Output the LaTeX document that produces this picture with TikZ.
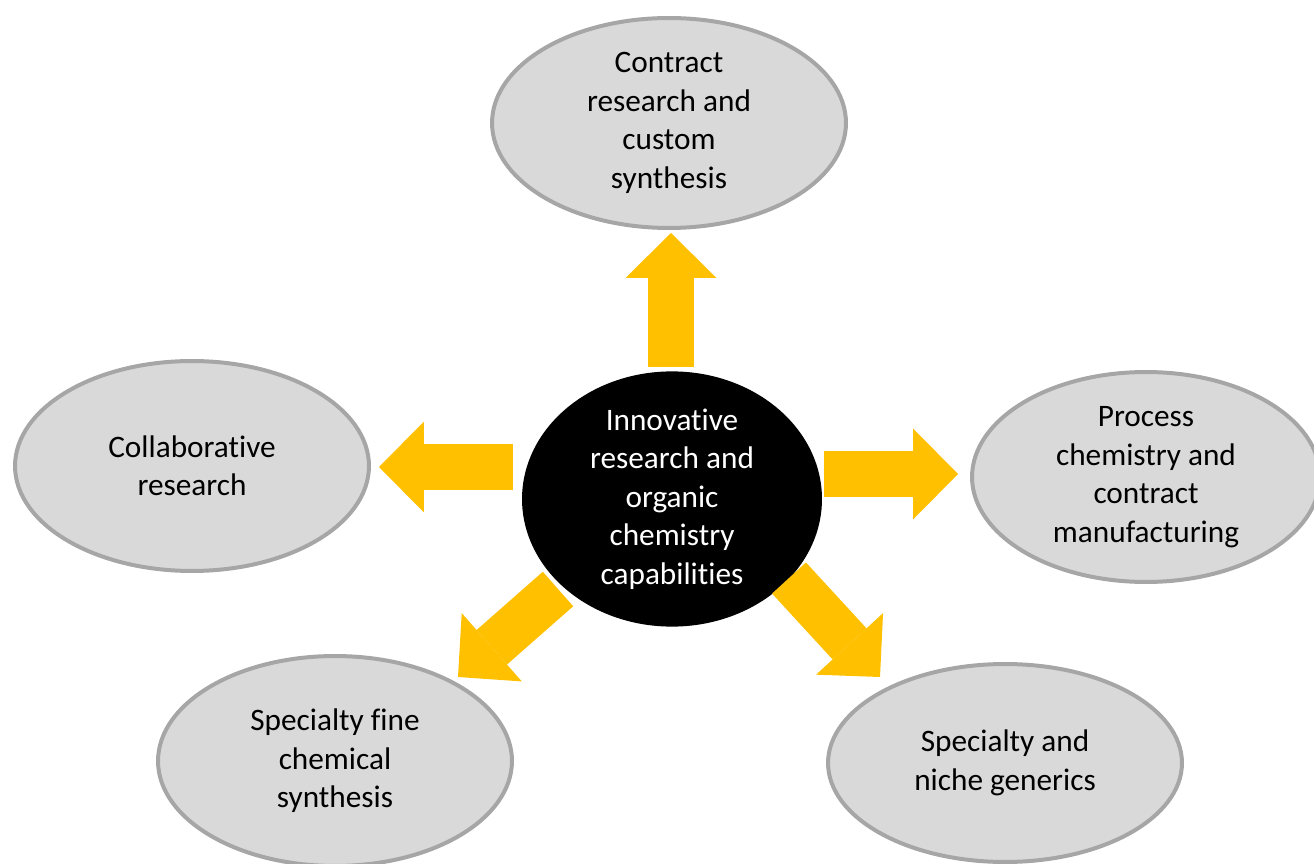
\documentclass[tikz,border=0pt]{standalone}
\usepackage{fontspec}
\setmainfont{Carlito}[Ligatures={NoCommon}]
\usetikzlibrary{shapes.geometric,arrows.meta}
\definecolor{amber}{HTML}{FFC000}
\definecolor{bubblefill}{HTML}{D9D9D9}
\definecolor{bubbleline}{HTML}{A6A6A6}
\tikzstyle{bubble}=[ellipse, draw=bubbleline, fill=bubblefill, line width=0.08cm, minimum width=7.08cm, minimum height=4.2cm, inner sep=0pt, align=center, font=\fontsize{17.8}{21.9}\selectfont]
\tikzstyle{hub}=[ellipse, fill=black, text=white, minimum width=6cm, minimum height=4.4cm, inner sep=0pt, align=center, font=\fontsize{17.8}{21.9}\selectfont]
\tikzstyle{push}=[amber, line width=0.92cm, -{Triangle[length=0.9cm,width=1.82cm,line width=0pt]}]

\begin{document}
\begin{tikzpicture}[x=0.02cm, y=-0.02cm]
            \useasboundingbox (0,0) rectangle (1314,864);
            \clip (0,0) rectangle (1314,864);
            \node[hub] at (672,499) (core) {Innovative\\research and\\organic\\chemistry\\capabilities};
            \node[bubble] at (669,123) (contract) {Contract\\research and\\custom\\synthesis};
            \node[bubble] at (192,466) (collab) {Collaborative\\research};
            \node[bubble, minimum width=6.96cm] at (1146,477) (process) {Process\\chemistry and\\contract\\manufacturing};
            \node[bubble] at (335,761) (finechem) {Specialty fine\\chemical\\synthesis};
            \node[bubble, minimum height=3.96cm] at (1005,763) (generics) {Specialty and\\niche generics};
            % arrow ends
            \coordinate (up0) at (671,367);   \coordinate (up1) at (671,233);
            \coordinate (lt0) at (513,467);   \coordinate (lt1) at (379,467);
            \coordinate (rt0) at (824,474);   \coordinate (rt1) at (958,474);
            \coordinate (bl0) at (558,589);   \coordinate (bl1) at (458,677);
            \coordinate (br0) at (789,578);   \coordinate (br1) at (880,677);
            \draw[push] (up0) -- (up1);
            \draw[push] (lt0) -- (lt1);
            \draw[push] (rt0) -- (rt1);
            \draw[push] (bl0) -- (bl1);
            \draw[push] (br0) -- (br1);
        \end{tikzpicture}
\end{document}
